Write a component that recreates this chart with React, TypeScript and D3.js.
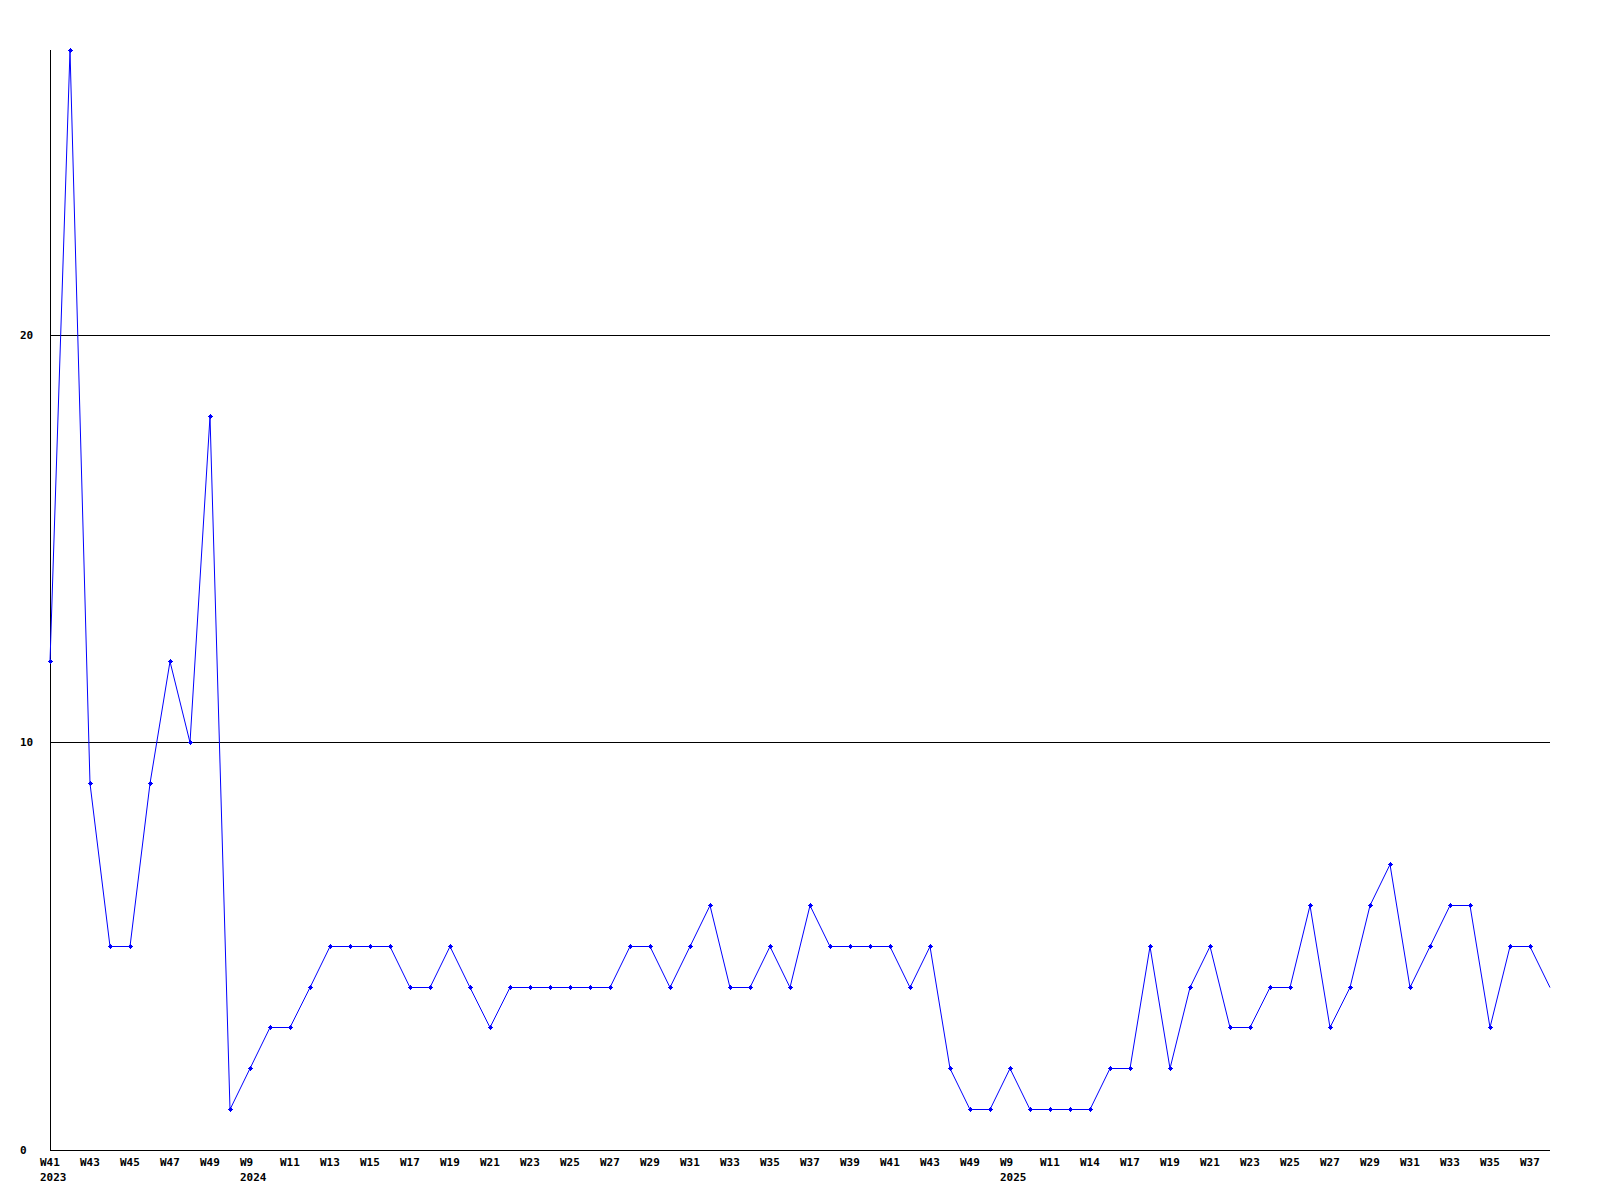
import React from "react";
import * as d3 from "d3";

const values: number[] = [
  12, 27, 9, 5, 5, 9, 12, 10, 18, 1,
  2, 3, 3, 4, 5, 5, 5, 5, 4, 4,
  5, 4, 3, 4, 4, 4, 4, 4, 4, 5,
  5, 4, 5, 6, 4, 4, 5, 4, 6, 5,
  5, 5, 5, 4, 5, 2, 1, 1, 2, 1,
  1, 1, 1, 2, 2, 5, 2, 4, 5, 3,
  3, 4, 4, 6, 3, 4, 6, 7, 4, 5,
  6, 6, 3, 5, 5, 4,
];

const tickLabels: string[] = [
  "W41", "W43", "W45", "W47", "W49", "W9", "W11", "W13", "W15", "W17",
  "W19", "W21", "W23", "W25", "W27", "W29", "W31", "W33", "W35", "W37",
  "W39", "W41", "W43", "W49", "W9", "W11", "W14", "W17", "W19", "W21",
  "W23", "W25", "W27", "W29", "W31", "W33", "W35", "W37",
];

const yearLabels: { tick: number; year: string }[] = [
  { tick: 0, year: "2023" },
  { tick: 5, year: "2024" },
  { tick: 24, year: "2025" },
];

const yTicks: number[] = [0, 10, 20];
const gridValues: number[] = [10, 20];

const W = 1600;
const H = 1200;
const left = 50;
const right = 1550;
const top = 50;
const bottom = 1150;

const FONT = "'DejaVu Sans Mono', 'Liberation Mono', monospace";

export default function App() {
  const x = d3.scaleLinear().domain([0, values.length - 1]).range([left, right]);
  const y = d3.scaleLinear().domain([0, d3.max(values) as number]).range([bottom, top]);

  const line = d3
    .line<number>()
    .x((_, i) => x(i))
    .y((d) => Math.floor(y(d)) + 0.5);

  const marker = "M-1.5,-1.5h3v3h-3z M-2.5,-0.5h5v1h-5z M-0.5,-2.5h1v5h-1z";

  return (
    <svg
      width={W}
      height={H}
      style={{ position: "absolute", left: 0, top: 0, background: "#fff" }}
    >
      <rect x={0} y={0} width={W} height={H} fill="#fff" />
      {gridValues.map((g) => (
        <line
          key={g}
          x1={left}
          x2={right}
          y1={Math.floor(y(g)) + 0.5}
          y2={Math.floor(y(g)) + 0.5}
          stroke="#000"
          strokeWidth={1}
          shapeRendering="crispEdges"
        />
      ))}
      <line x1={left + 0.5} x2={left + 0.5} y1={top} y2={bottom} stroke="#000" shapeRendering="crispEdges" />
      <line x1={left} x2={right} y1={bottom + 0.5} y2={bottom + 0.5} stroke="#000" shapeRendering="crispEdges" />
      {yTicks.map((t) => (
        <text
          key={t}
          x={20}
          y={Math.floor(y(t)) + 4}
          fontFamily={FONT}
          fontWeight="bold"
          fontSize={11}
          fill="#000"
        >
          {t}
        </text>
      ))}
      {tickLabels.map((lab, k) => (
        <text
          key={k}
          x={x(k * 2) - 10}
          y={1166}
          fontFamily={FONT}
          fontWeight="bold"
          fontSize={11}
          fill="#000"
        >
          {lab}
        </text>
      ))}
      {yearLabels.map((yl) => (
        <text
          key={yl.year}
          x={x(yl.tick * 2) - 10}
          y={1181}
          fontFamily={FONT}
          fontWeight="bold"
          fontSize={11}
          fill="#000"
        >
          {yl.year}
        </text>
      ))}
      <path d={line(values) || ""} fill="none" stroke="#0000ff" strokeWidth={1} />
      {values.slice(0, values.length - 1).map((v, i) => (
        <path
          key={i}
          d={marker}
          transform={`translate(${Math.round(x(i)) + 0.5},${Math.floor(y(v)) + 0.5})`}
          fill="#0000ff"
          shapeRendering="crispEdges"
        />
      ))}
    </svg>
  );
}
